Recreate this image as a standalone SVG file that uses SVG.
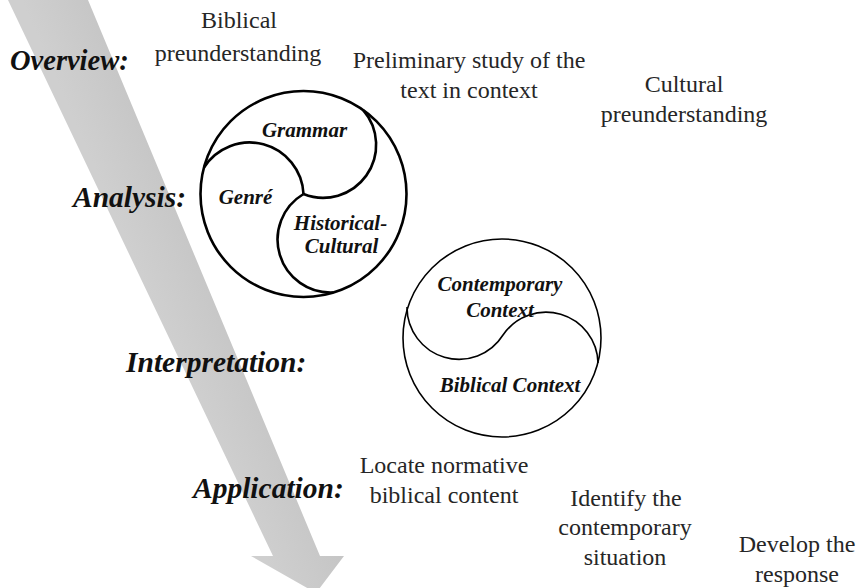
<svg xmlns="http://www.w3.org/2000/svg" width="862" height="588" viewBox="0 0 862 588">
  <defs>
    <linearGradient id="shaftFill" gradientUnits="userSpaceOnUse" x1="30" y1="20" x2="110" y2="-15">
      <stop offset="0" stop-color="#cfcfcf"/>
      <stop offset="1" stop-color="#c3c3c3"/>
    </linearGradient>
    <style>
      .stage { font-family: "Liberation Serif", "Times New Roman", serif; font-weight: bold; font-style: italic; font-size: 29.5px; fill: #111; }
      .note { font-family: "Liberation Serif", "Times New Roman", serif; font-size: 24px; fill: #262626; text-anchor: middle; }
      .part { font-family: "Liberation Serif", "Times New Roman", serif; font-weight: bold; font-style: italic; font-size: 21px; fill: #111; text-anchor: middle; }
      .ring-bold { fill: none; stroke: #000; stroke-width: 2.6; }
      .ring-thin { fill: none; stroke: #000; stroke-width: 1.6; }
    </style>
  </defs>
  <rect width="862" height="588" fill="#fff"/>

  <!-- large downward process arrow -->
  <g id="connectors">
    <polygon points="8,0 88,0 320,556 344,556 316,593 251,556 273,556" fill="url(#shaftFill)"/>
  </g>

  <!-- stage labels -->
  <g id="stage-overview">
    <text class="stage" x="10" y="70" style="font-size:28.5px">Overview:</text>
  </g>
  <g id="stage-analysis">
    <text class="stage" x="73" y="207">Analysis:</text>
  </g>
  <g id="stage-interpretation">
    <text class="stage" x="126" y="372">Interpretation:</text>
  </g>
  <g id="stage-application">
    <text class="stage" x="193" y="498">Application:</text>
  </g>

  <!-- overview notes -->
  <g id="biblical-preunderstanding">
    <text class="note" x="239" y="28">Biblical</text>
    <text class="note" x="238" y="61">preunderstanding</text>
  </g>
  <g id="preliminary-study">
    <text class="note" x="469" y="68">Preliminary study of the</text>
    <text class="note" x="469" y="98">text in context</text>
  </g>
  <g id="cultural-preunderstanding">
    <text class="note" x="684" y="92">Cultural</text>
    <text class="note" x="684" y="122">preunderstanding</text>
  </g>

  <!-- analysis triskelion -->
  <g id="analysis-circle">
    <circle class="ring-bold" cx="303.5" cy="194" r="103"/>
    <path class="ring-bold" d="M303.5,194 A54,54 0 0 0 204,167.5"/>
    <path class="ring-bold" d="M303.5,194 A53,53 0 0 0 363.4,110.3"/>
    <path class="ring-bold" d="M303.5,194 A53,53 0 0 0 333.2,292.5"/>
    <text class="part" x="304.5" y="137">Grammar</text>
    <text class="part" x="245.5" y="204">Genré</text>
    <text class="part" x="340.5" y="230">Historical-</text>
    <text class="part" x="341.5" y="253">Cultural</text>
  </g>

  <!-- interpretation yin-yang -->
  <g id="interpretation-circle">
    <circle class="ring-thin" cx="502" cy="338" r="99"/>
    <path class="ring-thin" d="M407,307 A52,52 0 0 0 503,335 A52,52 0 0 1 598,363"/>
    <text class="part" x="500" y="291">Contemporary</text>
    <text class="part" x="500" y="317">Context</text>
    <text class="part" x="510" y="392">Biblical Context</text>
  </g>

  <!-- application notes -->
  <g id="locate-content">
    <text class="note" x="444" y="473">Locate normative</text>
    <text class="note" x="444" y="503">biblical content</text>
  </g>
  <g id="identify-situation">
    <text class="note" x="626" y="506">Identify the</text>
    <text class="note" x="625" y="535">contemporary</text>
    <text class="note" x="625" y="565">situation</text>
  </g>
  <g id="develop-response">
    <text class="note" x="797" y="552">Develop the</text>
    <text class="note" x="797" y="582">response</text>
  </g>
</svg>
